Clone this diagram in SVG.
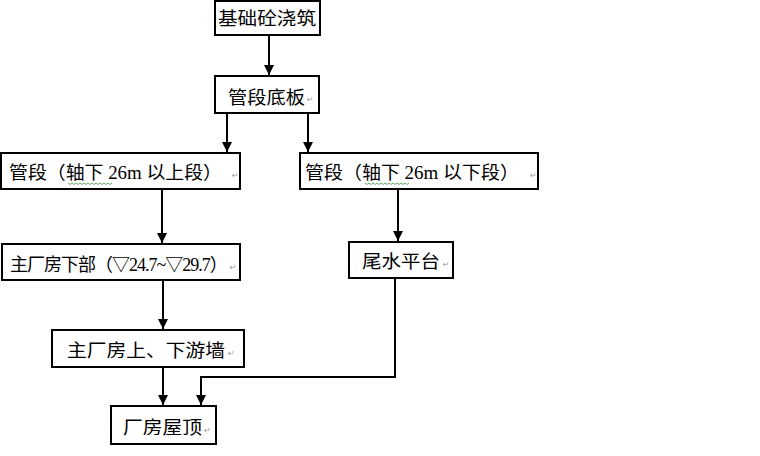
<svg xmlns="http://www.w3.org/2000/svg" width="760" height="456" viewBox="0 0 760 456">
<defs>
<style>
.box{fill:#fff;stroke:#000;stroke-width:2}
.t{font-family:"Liberation Serif","Noto Sans CJK SC",serif;font-size:18px;fill:#000}
.pm{font-family:"DejaVu Sans",sans-serif;font-size:8px;fill:#9a9a9a}
.c{fill:none;stroke:#000;stroke-width:2}
.sq{fill:none;stroke:#3a9a3a;stroke-width:0.8}
</style>
<marker id="ah" viewBox="0 0 10 10" refX="10" refY="5" markerWidth="5.5" markerHeight="5" orient="auto" markerUnits="strokeWidth">
<path d="M0,0 L10,5 L0,10 z" fill="#000"/>
</marker>
</defs>
<rect width="760" height="456" fill="#fff"/>
<g id="connectors">
<path class="c" d="M269,35 V75" marker-end="url(#ah)"/>
<path class="c" d="M227,113 V152" marker-end="url(#ah)"/>
<path class="c" d="M308,113 V152" marker-end="url(#ah)"/>
<path class="c" d="M162,189 V243" marker-end="url(#ah)"/>
<path class="c" d="M398,189 V241" marker-end="url(#ah)"/>
<path class="c" d="M163,280 V329" marker-end="url(#ah)"/>
<path class="c" d="M163,367 V405" marker-end="url(#ah)"/>
<path class="c" d="M395,278 V377 H201 V405" marker-end="url(#ah)"/>
</g>
<g id="n1">
<rect class="box" x="215" y="1" width="105" height="34"/>
<text class="t" x="218" y="25" font-size="19" textLength="98" lengthAdjust="spacingAndGlyphs">基础砼浇筑</text>
</g>
<g id="n2">
<rect class="box" x="215" y="76" width="104" height="37"/>
<text class="t" x="228" y="104" textLength="77" lengthAdjust="spacingAndGlyphs">管段底板</text>
<text class="pm" x="307" y="102">↵</text>
</g>
<g id="n3">
<rect class="box" x="1" y="153" width="239" height="36"/>
<text class="t" x="9" y="179" textLength="213" lengthAdjust="spacingAndGlyphs">管段（轴下 26m 以上段）</text>
<text class="pm" x="232" y="178">↵</text>
<path class="sq" d="M68,183 l2,1.5 l2,-1.5 l2,1.5 l2,-1.5 l2,1.5 l2,-1.5 l2,1.5 l2,-1.5 l2,1.5 l2,-1.5 l2,1.5 l2,-1.5 l2,1.5 l2,-1.5 l2,1.5 l2,-1.5 l2,1.5 l2,-1.5 l2,1.5 l2,-1.5 l2,1.5 l2,-1.5"/>
</g>
<g id="n4">
<rect class="box" x="300" y="153" width="238" height="36"/>
<text class="t" x="305" y="179" textLength="214" lengthAdjust="spacingAndGlyphs">管段（轴下 26m 以下段）</text>
<text class="pm" x="530" y="178">↵</text>
<path class="sq" d="M365,183 l2,1.5 l2,-1.5 l2,1.5 l2,-1.5 l2,1.5 l2,-1.5 l2,1.5 l2,-1.5 l2,1.5 l2,-1.5 l2,1.5 l2,-1.5 l2,1.5 l2,-1.5 l2,1.5 l2,-1.5 l2,1.5 l2,-1.5 l2,1.5 l2,-1.5 l2,1.5 l2,-1.5"/>
</g>
<g id="n5">
<rect class="box" x="2" y="244" width="238" height="36"/>
<text class="t" x="10" y="271" font-size="16.5" letter-spacing="-1">主厂房下部（▽24.7~▽29.7）<tspan class="pm" dx="3" dy="-1" letter-spacing="0">↵</tspan></text>
</g>
<g id="n6">
<rect class="box" x="349" y="242" width="104" height="36"/>
<text class="t" x="362" y="268" textLength="78" lengthAdjust="spacingAndGlyphs">尾水平台</text>
<text class="pm" x="443" y="267">↵</text>
</g>
<g id="n7">
<rect class="box" x="52" y="330" width="192" height="37"/>
<text class="t" x="67" y="357" textLength="158" lengthAdjust="spacingAndGlyphs">主厂房上、下游墙</text>
<text class="pm" x="228" y="356">↵</text>
</g>
<g id="n8">
<rect class="box" x="111" y="406" width="105" height="38"/>
<text class="t" x="123" y="434" textLength="79" lengthAdjust="spacingAndGlyphs">厂房屋顶</text>
<text class="pm" x="204" y="433">↵</text>
</g>
</svg>
